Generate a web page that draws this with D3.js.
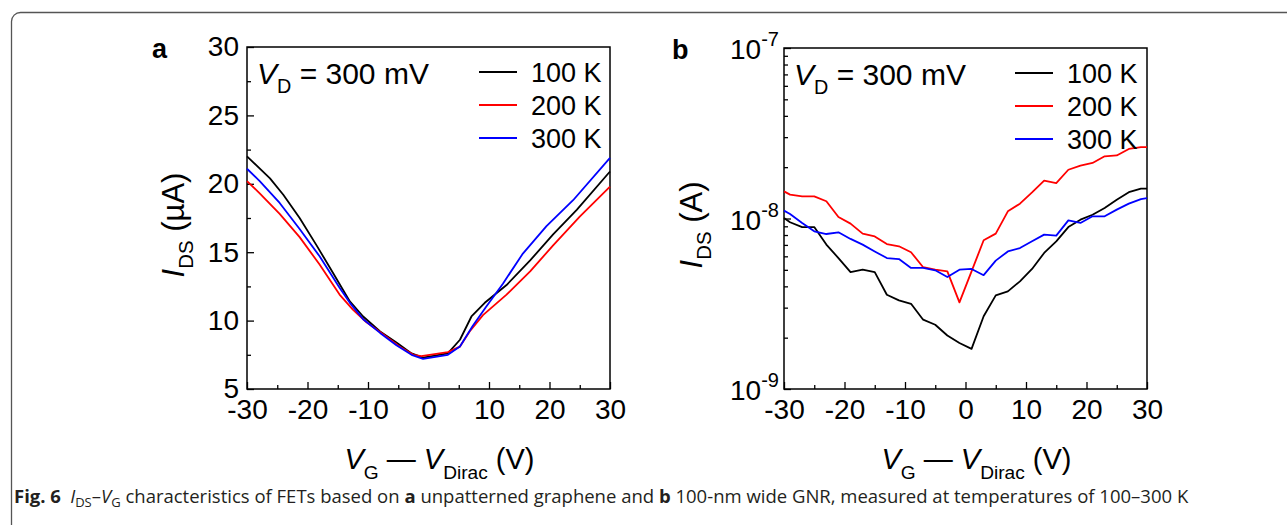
<!DOCTYPE html>
<html lang="en">
<head>
<meta charset="UTF-8" />
<title>IDS-VG characteristics, Fig. 6</title>
<script src="https://cdn.jsdelivr.net/npm/d3@7/dist/d3.min.js"></script>
<style>
  body { margin: 0; background: #fff; }
  svg text { font-family: "Liberation Sans", Arial, sans-serif; fill: #000; }
  svg text.caption { font-family: "Open Sans", sans-serif; fill: #231f20; }
</style>
</head>
<body>
<svg id="chart" width="1287" height="525"></svg>
<script>
// ---- data ----
var xTicks = [-30, -20, -10, 0, 10, 20, 30];
var aYTicks = [5, 10, 15, 20, 25, 30];
var bYTicks = [1e-9, 1e-8, 1e-7];
var bYLabels = ["-9", "-8", "-7"];
var tempLabels = ["100 K", "200 K", "300 K"];
var tempColors = ["#000000", "#ff0000", "#0000ff"];

// panel a, I_DS in µA
var aX100 = [-30, -26.2, -24, -21.3, -18.5, -15.8, -13, -10.8, -8, -5.3, -2.8, -0.9, 3.2, 5.2, 7.1, 9.3, 12.9, 16.8, 20.6, 24.5, 30];
var aI100 = [22.0, 20.4, 19.2, 17.5, 15.5, 13.5, 11.4, 10.3, 9.2, 8.4, 7.6, 7.3, 7.6, 8.6, 10.3, 11.3, 12.6, 14.4, 16.3, 18.1, 20.9];
var aX200 = [-30, -27.9, -24.6, -21.3, -18, -14.7, -12.5, -10.3, -7.5, -4.8, -2.5, -1.2, 3.2, 5.2, 6.8, 9, 12.9, 16.8, 20.6, 25, 30];
var aI200 = [20.2, 19.3, 17.8, 16.1, 14.1, 11.9, 10.8, 9.9, 9.0, 8.1, 7.5, 7.4, 7.7, 8.1, 9.2, 10.4, 11.9, 13.6, 15.5, 17.6, 19.8];
var aX300 = [-30, -27.9, -24.6, -21.3, -18, -14.7, -13, -10.8, -8, -5.3, -2.8, -0.9, 3.2, 5.2, 7.3, 9.5, 12.3, 15.6, 19.5, 23.9, 30];
var aI300 = [21.1, 20.2, 18.6, 16.7, 14.7, 12.4, 11.3, 10.1, 9.1, 8.2, 7.5, 7.2, 7.5, 8.1, 9.6, 11.0, 12.7, 14.9, 16.9, 18.8, 21.9];

// panel b, I_DS in A
var bX = [-30, -29, -27, -25, -23, -21, -19, -17, -15, -13, -11, -9, -7, -5, -3, -1, 1, 3, 5, 7, 9, 11, 13, 15, 17, 19, 21, 23, 25, 27, 29, 30];
var bI100 = [1.007e-8, 9.51e-9, 8.91e-9, 8.91e-9, 7.03e-9, 5.86e-9, 4.85e-9, 5.01e-9, 4.85e-9, 3.57e-9, 3.31e-9, 3.16e-9, 2.55e-9, 2.38e-9, 2.06e-9, 1.86e-9,
             1.72e-9, 2.67e-9, 3.54e-9, 3.74e-9, 4.28e-9, 5.06e-9, 6.28e-9, 7.35e-9, 8.91e-9, 9.84e-9, 1.052e-8, 1.153e-8, 1.288e-8, 1.426e-8, 1.496e-8, 1.496e-8];
var bI200 = [1.442e-8, 1.380e-8, 1.349e-8, 1.349e-8, 1.262e-8, 1.021e-8, 9.33e-9, 8.15e-9, 7.85e-9, 7.08e-9, 6.87e-9, 6.34e-9, 5.18e-9, 5.01e-9, 4.90e-9, 3.22e-9,
             4.90e-9, 7.45e-9, 8.15e-9, 1.102e-8, 1.222e-8, 1.422e-8, 1.667e-8, 1.614e-8, 1.932e-8, 2.042e-8, 2.118e-8, 2.317e-8, 2.344e-8, 2.559e-8, 2.624e-8, 2.624e-8];
var bI300 = [1.112e-8, 1.062e-8, 9.42e-9, 8.41e-9, 8.11e-9, 8.30e-9, 7.59e-9, 7.03e-9, 6.41e-9, 5.86e-9, 5.78e-9, 5.13e-9, 5.13e-9, 4.97e-9, 4.54e-9, 5.01e-9,
             5.06e-9, 4.65e-9, 5.66e-9, 6.41e-9, 6.71e-9, 7.35e-9, 8.04e-9, 7.93e-9, 9.75e-9, 9.42e-9, 1.030e-8, 1.030e-8, 1.127e-8, 1.222e-8, 1.300e-8, 1.318e-8];

var svg = d3.select("#chart");

// outer rounded frame of the figure box (runs off right/bottom)
svg.append("rect")
  .attr("x", 11.5).attr("y", 12.5)
  .attr("width", 1300).attr("height", 540)
  .attr("rx", 9)
  .attr("fill", "none").attr("stroke", "#555").attr("stroke-width", 1.3);

// helper: text with subscript pieces, parts = [[text, style], ...]
function richText(g, parts, size, subDrop) {
  var t = g.append("text").attr("font-size", size);
  var shift = 0;
  subDrop = subDrop || 0.3;
  parts.forEach(function(p) {
    var ts = t.append("tspan").text(p[0]);
    var want = 0;
    if (p[1] === "i") ts.attr("font-style", "italic");
    if (p[1] === "sub") { ts.attr("font-size", size * 0.66); want = size * subDrop; }
    if (want !== shift) { ts.attr("dy", want - shift); shift = want; }
  });
  return t;
}

function styleTicks(sel) {
  sel.select(".domain").remove();
  sel.selectAll("text").attr("font-size", 28).attr("fill", "#000")
    .attr("font-family", "Liberation Sans, Arial, sans-serif");
}

function drawPanel(cfg) {
  var g = svg.append("g");
  var x = d3.scaleLinear().domain([-30, 30]).range([cfg.left, cfg.right]);
  var y = cfg.y;

  // minor + major x ticks, pointing inward
  g.append("g").attr("transform", "translate(0," + cfg.bottom + ")")
    .call(d3.axisBottom(x).tickValues(d3.range(-25, 30, 10)).tickSize(-4).tickSizeOuter(0).tickFormat(""))
    .call(styleTicks);
  g.append("g").attr("transform", "translate(0," + cfg.bottom + ")")
    .call(d3.axisBottom(x).tickValues(xTicks).tickSize(-7).tickSizeOuter(0).tickPadding(10)
      .tickFormat(function(d) { return String(d); }))
    .call(styleTicks);

  // y ticks
  g.append("g").attr("transform", "translate(" + cfg.left + ",0)")
    .call(d3.axisLeft(y).tickValues(cfg.yMinor).tickSize(-4).tickSizeOuter(0).tickFormat(""))
    .call(styleTicks);
  g.append("g").attr("transform", "translate(" + cfg.left + ",0)")
    .call(d3.axisLeft(y).tickValues(cfg.yTicks).tickSize(-7).tickSizeOuter(0).tickPadding(8)
      .tickFormat(cfg.yFormat || ""))
    .call(styleTicks);
  g.selectAll(".tick line").attr("stroke", "#000").attr("stroke-width", 1.3);

  // frame
  g.append("rect")
    .attr("x", cfg.left).attr("y", cfg.top)
    .attr("width", cfg.right - cfg.left).attr("height", cfg.bottom - cfg.top)
    .attr("fill", "none").attr("stroke", "#000").attr("stroke-width", 1.5);

  // curves
  var line = d3.line().x(function(d) { return x(d[0]); }).y(function(d) { return y(d[1]); });
  cfg.series.forEach(function(s, i) {
    g.append("path")
      .datum(d3.zip(s[0], s[1]))
      .attr("d", line)
      .attr("fill", "none")
      .attr("stroke", tempColors[i])
      .attr("stroke-width", 1.8)
      .attr("stroke-linejoin", "round");
  });

  // legend
  tempLabels.forEach(function(lab, i) {
    var ly = cfg.top + 25 + i * 33;
    g.append("line")
      .attr("x1", cfg.legendX).attr("x2", cfg.legendX + 38)
      .attr("y1", ly).attr("y2", ly)
      .attr("stroke", tempColors[i]).attr("stroke-width", 2);
    g.append("text").attr("x", cfg.legendX + 52).attr("y", ly + 10)
      .attr("font-size", 27).text(lab);
  });

  // V_D note
  richText(g, [["V", "i"], ["D", "sub"], [" = 300 mV", ""]], 30, 0.3)
    .attr("x", cfg.left + 10).attr("y", cfg.top + 37);

  // panel letter
  g.append("text").attr("x", cfg.letterX).attr("y", cfg.top + 11)
    .attr("font-size", 27).attr("font-weight", "bold").text(cfg.letter);

  // x title
  richText(g, [["V", "i"], ["G", "sub"], [" \u2014 ", ""], ["V", "i"], ["Dirac", "sub"], [" (V)", ""]], 29, 0.33)
    .attr("x", (cfg.left + cfg.right) / 2 + 11).attr("y", cfg.bottom + 80)
    .attr("text-anchor", "middle");

  // y title
  richText(g, [["I", "i"], ["DS", "sub"], [cfg.yUnit, ""]], 31, 0.3)
    .attr("text-anchor", "middle")
    .attr("transform", "translate(" + cfg.yTitleX + ",225) rotate(-90)");

  return { g: g, x: x, y: y };
}

// panel a
var ya = d3.scaleLinear().domain([5, 30]).range([389, 47]);
drawPanel({
  left: 247, right: 610, top: 47, bottom: 389, y: ya,
  yTicks: aYTicks, yMinor: d3.range(7.5, 30, 5), yFormat: d3.format("d"),
  series: [[aX100, aI100], [aX200, aI200], [aX300, aI300]],
  legendX: 479, letter: "a", letterX: 152, yTitleX: 184, yUnit: " (\u00b5A)"
});

// panel b (log)
var yb = d3.scaleLog().domain([1e-9, 1e-7]).range([389, 48]);
var bMinor = [];
[1e-9, 1e-8].forEach(function(dec) { d3.range(2, 10).forEach(function(m) { bMinor.push(dec * m); }); });
var pb = drawPanel({
  left: 784, right: 1147, top: 48, bottom: 389, y: yb,
  yTicks: bYTicks, yMinor: bMinor,
  series: [[bX, bI100], [bX, bI200], [bX, bI300]],
  legendX: 1015, letter: "b", letterX: 672, yTitleX: 702, yUnit: " (A)"
});
// log tick labels 10^n
bYTicks.forEach(function(v, i) {
  var t = pb.g.append("text").attr("text-anchor", "end")
    .attr("x", 784 - 5).attr("y", yb(v) + 11).attr("font-size", 28);
  t.append("tspan").text("10");
  t.append("tspan").attr("font-size", 20).attr("dy", -13).text(bYLabels[i]);
});

// caption
var cap = svg.append("text").attr("class", "caption")
  .attr("x", 14).attr("y", 503).attr("font-size", 18.5);
cap.append("tspan").attr("font-weight", "bold").text("Fig. 6");
cap.append("tspan").text("\u2002");
cap.append("tspan").attr("font-style", "italic").text("I");
cap.append("tspan").attr("font-size", 13).attr("dy", 4).text("DS");
cap.append("tspan").attr("dy", -4).text("\u2013");
cap.append("tspan").attr("font-style", "italic").text("V");
cap.append("tspan").attr("font-size", 13).attr("dy", 4).text("G");
cap.append("tspan").attr("dy", -4).text(" characteristics of FETs based on ");
cap.append("tspan").attr("font-weight", "bold").text("a");
cap.append("tspan").text(" unpatterned graphene and ");
cap.append("tspan").attr("font-weight", "bold").text("b");
cap.append("tspan").text(" 100-nm wide GNR, measured at temperatures of 100\u2013300 K");
</script>
</body>
</html>
